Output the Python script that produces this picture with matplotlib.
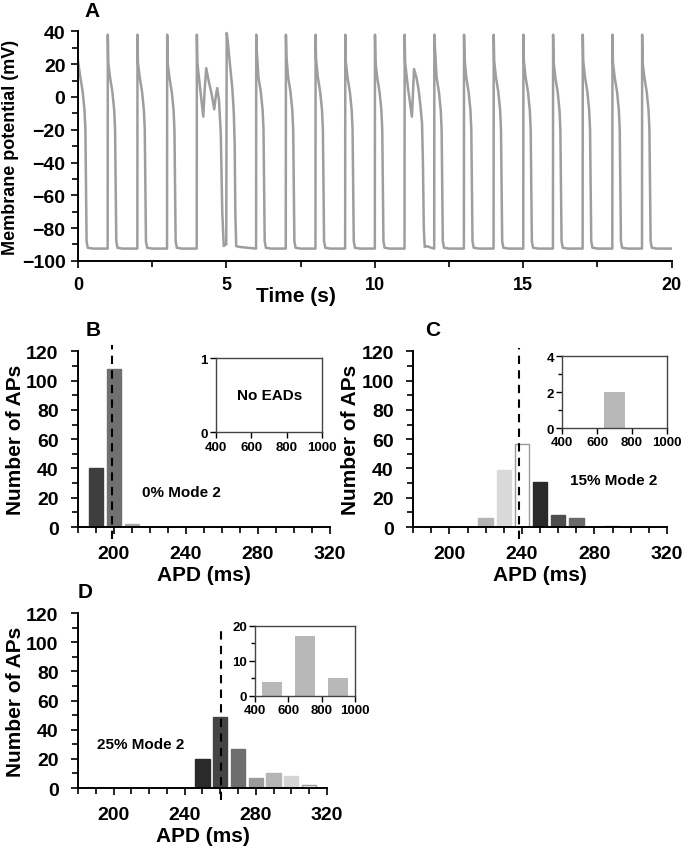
import matplotlib.pyplot as plt
import numpy as np
from matplotlib.ticker import MultipleLocator

plt.rcParams['font.family'] = ['Liberation Sans', 'DejaVu Sans']
plt.rcParams['font.weight'] = 'bold'
plt.rcParams['axes.labelweight'] = 'bold'

# Panel A: membrane potential trace.
# Normal beat waypoints (time after onset in s, mV); the 3rd value is the notch.
ap_dt = [0.000, 0.005, 0.020, 0.080, 0.160, 0.220, 0.250, 0.270, 0.290, 0.330, 0.500]
ap_mv = [-92.5, 38.0, 21.0, 12.0, 3.0, -8.0, -20.0, -55.0, -88.0, -92.0, -92.5]

beat_onsets = [1, 2, 3, 6, 7, 8, 9, 10, 12, 13, 14, 15, 16, 17, 18, 19]
beat_notch = [21, 21, 21, 29, 25, 23, 22, 22, 32, 24, 22, 22, 22, 22, 21, 21]

# first beat starts already in plateau at t = 0
first_t = [0.00, 0.08, 0.16, 0.22, 0.25, 0.27, 0.29, 0.33, 0.50]
first_v = [22.0, 12.0, 3.0, -8.0, -20.0, -55.0, -88.0, -92.0, -92.5]

# beats with early afterdepolarisations and the long beat after them
ead4_t = [4.00, 4.005, 4.02, 4.10, 4.22, 4.27, 4.32, 4.40, 4.50, 4.59, 4.64, 4.69, 4.75, 4.81, 4.86, 4.91, 4.95]
ead4_v = [-92.5, 38.0, 21.0, 8.0, -12.0, 5.0, 17.6, 10.0, 2.0, -7.5, 0.0, 5.4, -2.0, -22.0, -70.0, -91.0, -90.0]
beat5_t = [4.995, 5.01, 5.04, 5.12, 5.20, 5.25, 5.28, 5.30, 5.33, 5.45, 5.70, 6.00]
beat5_v = [-90.0, 39.0, 35.0, 20.0, 5.0, -10.0, -30.0, -70.0, -91.0, -91.5, -92.0, -92.5]
ead11_t = [11.00, 11.005, 11.02, 11.12, 11.25, 11.29, 11.32, 11.40, 11.47, 11.54, 11.59, 11.62, 11.65, 11.68, 11.75, 11.90, 12.00]
ead11_v = [-92.5, 38.0, 21.0, 5.0, -12.0, 5.0, 17.0, 12.0, 5.0, -6.0, -16.0, -40.0, -80.0, -91.5, -91.0, -92.0, -92.5]

# Panel B-D: APD histograms
b_apd = [190, 200, 210]
b_count = [40, 108, 2]
b_colors = ['#3e3e3e', '#707070', '#a8a8a8']
b_mean = 199

c_apd = [220, 230, 240, 250, 260, 270, 290]
c_count = [6, 39, 57, 31, 8, 6, 1]
c_colors = ['#b4b4b4', '#d9d9d9', '#ffffff', '#2a2a2a', '#4e4e4e', '#6a6a6a', '#8a8a8a']
c_mean = 238.5
c_inset_apd = [700]
c_inset_count = [2]

d_apd = [250, 260, 270, 280, 290, 300, 310]
d_count = [20, 49, 27, 7, 10, 8, 2]
d_colors = ['#2a2a2a', '#444444', '#6e6e6e', '#9a9a9a', '#b4b4b4', '#d4d4d4', '#f2f2f2']
d_mean = 260.5
d_inset_apd = [500, 700, 900]
d_inset_count = [4, 17, 5]

inset_color = '#b8b8b8'

# build the trace
trace_t = list(first_t)
trace_v = list(first_v)
special = {4: (ead4_t, ead4_v), 5: (beat5_t, beat5_v), 11: (ead11_t, ead11_v)}
for onset in sorted(set(beat_onsets) | set(special)):
    if onset in special:
        trace_t += special[onset][0]
        trace_v += special[onset][1]
    else:
        mv = list(ap_mv)
        mv[2] = beat_notch[beat_onsets.index(onset)]
        trace_t += [onset + d for d in ap_dt]
        trace_v += mv
trace_t.append(20.0)
trace_v.append(-92.5)

fig = plt.figure(figsize=(6.84, 8.53), dpi=100)

def style_axes(ax):
    for s in ['top', 'right']:
        ax.spines[s].set_visible(False)
    for s in ['left', 'bottom']:
        ax.spines[s].set_linewidth(1.4)
    ax.tick_params(which='both', direction='out', width=1.2, color='black')
    ax.tick_params(which='major', length=5)
    ax.tick_params(which='minor', length=4)

# Panel A
axA = fig.add_axes([0.114, 0.693, 0.868, 0.269])
axA.plot(trace_t, trace_v, color='#9e9e9e', lw=1.8)
axA.set_xlim(0, 20)
axA.set_ylim(-100, 40)
axA.xaxis.set_major_locator(MultipleLocator(5))
axA.xaxis.set_minor_locator(MultipleLocator(2.5))
axA.yaxis.set_major_locator(MultipleLocator(20))
axA.yaxis.set_minor_locator(MultipleLocator(10))
style_axes(axA)
axA.tick_params(axis='y', labelsize=14, pad=4)
axA.tick_params(axis='x', labelsize=13, pad=6)
axA.set_xlabel('Time (s)', fontsize=15)
axA.xaxis.set_label_coords(0.367, -0.11)
axA.set_ylabel('Membrane potential (mV)', fontsize=13)
axA.yaxis.set_label_coords(-0.099, 0.5)
fig.text(0.135, 0.986, 'A', fontsize=15, ha='center', va='center')


def hist_panel(rect, apd, count, colors, mean, dash_top, label, letter_xy, text, text_xy):
    ax = fig.add_axes(rect)
    edges = ['#999999' if c in ('#ffffff', '#f2f2f2') else c for c in colors]
    ax.bar(apd, count, width=8, color=colors, edgecolor=edges, linewidth=1)
    ax.set_xlim(180, 320)
    ax.set_ylim(0, 120)
    ax.set_xticks([200, 240, 280, 320])
    ax.xaxis.set_minor_locator(MultipleLocator(10))
    ax.yaxis.set_major_locator(MultipleLocator(20))
    ax.yaxis.set_minor_locator(MultipleLocator(10))
    style_axes(ax)
    ax.tick_params(axis='both', labelsize=14)
    ax.tick_params(axis='y', pad=9)
    ax.tick_params(axis='x', pad=8)
    ax.plot([mean, mean], [-8, dash_top], ls=(0, (4, 3)), color='black', lw=1.5, clip_on=False)
    ax.set_xlabel('APD (ms)', fontsize=15, labelpad=2)
    ax.set_ylabel('Number of APs', fontsize=15)
    ax.yaxis.set_label_coords(-53.0 / (rect[2] * 684), 0.5)
    fig.text(letter_xy[0], letter_xy[1], label, fontsize=15, ha='center', va='center')
    ax.text(text_xy[0], text_xy[1], text, fontsize=11, ha='center', va='center', transform=ax.transAxes)
    return ax


def inset(rect, ymax, ymajor, yminor):
    ax = fig.add_axes(rect)
    ax.set_xlim(400, 1000)
    ax.set_ylim(0, ymax)
    ax.set_xticks([400, 600, 800, 1000])
    ax.yaxis.set_major_locator(MultipleLocator(ymajor))
    if yminor:
        ax.yaxis.set_minor_locator(MultipleLocator(yminor))
    for s in ax.spines.values():
        s.set_linewidth(1.0)
        s.set_color('#444444')
    ax.tick_params(which='both', direction='out', labelsize=9.5, pad=2, width=1)
    ax.tick_params(which='major', length=4)
    ax.tick_params(which='minor', length=3)
    return ax


axB = hist_panel([0.114, 0.381, 0.368, 0.206], b_apd, b_count, b_colors, b_mean, 124,
                 'B', (0.136, 0.613), '0% Mode 2', (0.41, 0.2))
axBi = inset([0.316, 0.492, 0.155, 0.087], 1, 1, None)
axBi.text(0.5, 0.5, 'No EADs', fontsize=11, ha='center', va='center', transform=axBi.transAxes)

axC = hist_panel([0.604, 0.381, 0.371, 0.206], c_apd, c_count, c_colors, c_mean, 122,
                 'C', (0.632, 0.613), '15% Mode 2', (0.79, 0.27))
axCi = inset([0.822, 0.497, 0.153, 0.084], 4, 2, 1)
axCi.bar(c_inset_apd, c_inset_count, width=120, color=inset_color)

axD = hist_panel([0.114, 0.075, 0.364, 0.205], d_apd, d_count, d_colors, d_mean, 110,
                 'D', (0.125, 0.305), '25% Mode 2', (0.25, 0.25))
axDi = inset([0.373, 0.183, 0.146, 0.082], 20, 10, 5)
axDi.bar(d_inset_apd, d_inset_count, width=120, color=inset_color)

fig.savefig('out.png', dpi=100)
